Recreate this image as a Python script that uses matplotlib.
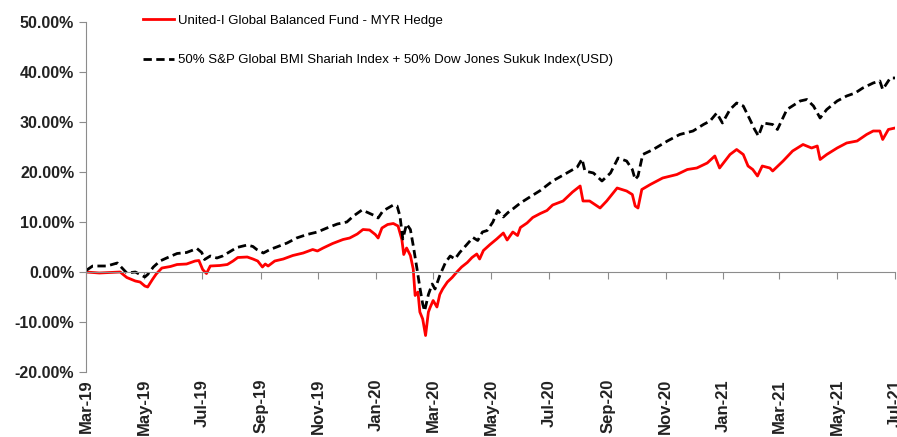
import matplotlib
matplotlib.use("Agg")
import matplotlib.pyplot as plt
import matplotlib.dates as mdates
import pandas as pd

plt.rcParams['font.family'] = ['Liberation Sans', 'DejaVu Sans']

# fund performance (%)
fund_dates = [
    "2019-03-01", "2019-03-15", "2019-03-26", "2019-04-06", "2019-04-13", "2019-04-22",
    "2019-04-27", "2019-05-02", "2019-05-05", "2019-05-10", "2019-05-14", "2019-05-20",
    "2019-05-29", "2019-06-05", "2019-06-15", "2019-06-24", "2019-06-28", "2019-07-02",
    "2019-07-06", "2019-07-10", "2019-07-20", "2019-07-28", "2019-08-03", "2019-08-08",
    "2019-08-18", "2019-08-24", "2019-08-29", "2019-09-03", "2019-09-06", "2019-09-09",
    "2019-09-16", "2019-09-25", "2019-10-05", "2019-10-16", "2019-10-26", "2019-10-31",
    "2019-11-06", "2019-11-16", "2019-11-27", "2019-12-04", "2019-12-12", "2019-12-18",
    "2019-12-25", "2019-12-31", "2020-01-03", "2020-01-07", "2020-01-13", "2020-01-19",
    "2020-01-24", "2020-01-28", "2020-01-30", "2020-02-02", "2020-02-06", "2020-02-09",
    "2020-02-11", "2020-02-14", "2020-02-16", "2020-02-19", "2020-02-22", "2020-02-25",
    "2020-02-27", "2020-03-01", "2020-03-05", "2020-03-08", "2020-03-11", "2020-03-16",
    "2020-03-21", "2020-03-26", "2020-03-31", "2020-04-06", "2020-04-11", "2020-04-16",
    "2020-04-19", "2020-04-23", "2020-04-30", "2020-05-07", "2020-05-14", "2020-05-18",
    "2020-05-24", "2020-05-29", "2020-06-01", "2020-06-08", "2020-06-14", "2020-06-22",
    "2020-06-29", "2020-07-05", "2020-07-16", "2020-07-26", "2020-08-03", "2020-08-06",
    "2020-08-13", "2020-08-24", "2020-08-31", "2020-09-11", "2020-09-21", "2020-09-27",
    "2020-09-30", "2020-10-03", "2020-10-07", "2020-10-16", "2020-10-29", "2020-11-13",
    "2020-11-24", "2020-12-04", "2020-12-15", "2020-12-23", "2020-12-28", "2021-01-08",
    "2021-01-15", "2021-01-22", "2021-01-27", "2021-02-01", "2021-02-06", "2021-02-11",
    "2021-02-19", "2021-02-22", "2021-03-05", "2021-03-15", "2021-03-26", "2021-04-04",
    "2021-04-10", "2021-04-13", "2021-04-20", "2021-05-01", "2021-05-11", "2021-05-22",
    "2021-06-01", "2021-06-08", "2021-06-15", "2021-06-18", "2021-06-24", "2021-07-01"]
fund_values = [
    0.0, -0.2, -0.1, 0.0, -1.1, -1.8,
    -2.0, -2.8, -3.0, -1.5, -0.4, 0.8,
    1.1, 1.5, 1.6, 2.2, 2.3, 0.5,
    -0.3, 1.2, 1.3, 1.5, 2.2, 2.9,
    3.0, 2.6, 2.2, 1.0, 1.6, 1.2,
    2.2, 2.6, 3.3, 3.8, 4.5, 4.2,
    4.8, 5.7, 6.5, 6.8, 7.6, 8.5,
    8.4, 7.5, 6.8, 8.8, 9.5, 9.7,
    9.2, 6.5, 3.5, 4.8, 3.3, 0.6,
    -4.7, -4.0, -8.0, -9.4, -12.7, -8.0,
    -7.0, -5.7, -7.0, -4.5, -3.4, -2.0,
    -1.1, 0.0, 1.0, 1.9, 2.9, 3.6,
    2.6, 4.3, 5.5, 6.6, 7.8, 6.4,
    8.0, 7.3, 8.9, 9.8, 10.9, 11.7,
    12.3, 13.4, 14.2, 16.0, 17.2, 14.2,
    14.2, 12.8, 14.2, 16.8, 16.2, 15.5,
    13.2, 12.8, 16.5, 17.5, 18.8, 19.5,
    20.5, 20.8, 21.8, 23.2, 20.8, 23.5,
    24.5, 23.5, 21.2, 20.5, 19.2, 21.2,
    20.8, 20.2, 22.2, 24.2, 25.5, 24.8,
    25.2, 22.5, 23.5, 24.8, 25.8, 26.2,
    27.5, 28.2, 28.2, 26.5, 28.5, 28.8]

# benchmark performance (%)
bench_dates = [
    "2019-03-01", "2019-03-08", "2019-03-23", "2019-04-03", "2019-04-08", "2019-04-13",
    "2019-04-22", "2019-04-27", "2019-05-02", "2019-05-05", "2019-05-11", "2019-05-18",
    "2019-05-25", "2019-06-05", "2019-06-15", "2019-06-26", "2019-07-01", "2019-07-04",
    "2019-07-10", "2019-07-17", "2019-07-23", "2019-07-31", "2019-08-07", "2019-08-18",
    "2019-08-24", "2019-08-28", "2019-09-04", "2019-09-11", "2019-09-18", "2019-09-29",
    "2019-10-09", "2019-10-20", "2019-10-31", "2019-11-10", "2019-11-21", "2019-12-01",
    "2019-12-08", "2019-12-17", "2019-12-23", "2019-12-31", "2020-01-03", "2020-01-08",
    "2020-01-19", "2020-01-23", "2020-01-26", "2020-01-29", "2020-02-02", "2020-02-06",
    "2020-02-09", "2020-02-13", "2020-02-16", "2020-02-19", "2020-02-21", "2020-02-25",
    "2020-02-29", "2020-03-03", "2020-03-08", "2020-03-14", "2020-03-19", "2020-03-24",
    "2020-03-29", "2020-04-06", "2020-04-12", "2020-04-17", "2020-04-22", "2020-04-27",
    "2020-05-03", "2020-05-08", "2020-05-14", "2020-05-19", "2020-05-24", "2020-06-01",
    "2020-06-11", "2020-06-22", "2020-07-05", "2020-07-20", "2020-07-31", "2020-08-05",
    "2020-08-08", "2020-08-17", "2020-08-26", "2020-09-04", "2020-09-12", "2020-09-21",
    "2020-09-27", "2020-09-30", "2020-10-03", "2020-10-08", "2020-10-19", "2020-11-03",
    "2020-11-16", "2020-11-30", "2020-12-11", "2020-12-18", "2020-12-25", "2020-12-31",
    "2021-01-08", "2021-01-15", "2021-01-22", "2021-01-29", "2021-02-03", "2021-02-07",
    "2021-02-12", "2021-02-22", "2021-02-27", "2021-03-09", "2021-03-23", "2021-03-30",
    "2021-04-06", "2021-04-13", "2021-04-20", "2021-05-01", "2021-05-11", "2021-05-20",
    "2021-05-28", "2021-06-08", "2021-06-15", "2021-06-18", "2021-06-26", "2021-07-01"]
bench_values = [
    0.3, 1.2, 1.2, 1.8, 0.8, -0.2,
    0.0, -0.5, -1.0, -0.5, 1.0, 2.2,
    2.8, 3.7, 3.9, 4.7, 3.9, 2.5,
    3.2, 2.8, 3.2, 4.1, 4.9, 5.4,
    5.1, 4.5, 3.8, 4.5, 5.0, 5.8,
    6.8, 7.5, 8.0, 8.8, 9.6, 10.0,
    11.2, 12.4, 11.9, 11.2, 10.8, 12.2,
    13.4, 13.2, 11.2, 6.6, 9.6, 8.5,
    5.3, 0.6, -3.1, -6.4, -7.8, -4.5,
    -2.4, -3.4, -0.7, 1.9, 3.2, 2.6,
    3.9, 5.6, 6.9, 6.3, 8.0, 8.3,
    10.0, 12.3, 11.0, 11.9, 12.6, 13.8,
    15.0, 16.3, 18.2, 19.8, 21.0, 22.6,
    20.2, 19.8, 18.2, 19.8, 22.8, 22.2,
    20.5, 18.5, 19.2, 23.5, 24.5, 26.2,
    27.5, 28.2, 29.5, 30.2, 31.8, 29.8,
    32.5, 33.8, 33.2, 30.5, 28.5, 27.2,
    29.8, 29.5, 28.5, 32.5, 34.2, 34.5,
    33.2, 30.8, 32.5, 34.2, 35.2, 35.8,
    36.8, 37.8, 38.2, 36.5, 38.8, 38.8]

fund_label = "United-I Global Balanced Fund - MYR Hedge"
bench_label = "50% S&P Global BMI Shariah Index + 50% Dow Jones Sukuk Index(USD)"

fig = plt.figure(figsize=(8.97, 4.37), dpi=100)
ax = fig.add_axes([0.0959, 0.1487, 0.9019, 0.801])

ax.plot(pd.to_datetime(fund_dates), fund_values, color="#FF0000", lw=2.0, label=fund_label)
ax.plot(pd.to_datetime(bench_dates), bench_values, color="black", lw=2.0,
        ls=(0, (3, 1.6)), label=bench_label)

ax.set_ylim(-20, 50)
ax.set_yticks(range(-20, 51, 10))
ax.set_yticklabels([f"{v:.2f}%" for v in range(-20, 51, 10)])
ax.set_xlim(pd.Timestamp("2019-03-01"), pd.Timestamp("2021-07-01"))

grey = "#8C8C8C"
for s in ["top", "right"]:
    ax.spines[s].set_visible(False)
ax.spines["left"].set_color(grey)
ax.spines["bottom"].set_color(grey)
ax.spines["bottom"].set_position(("data", 0))

locator = mdates.MonthLocator(bymonth=[1, 3, 5, 7, 9, 11])
ax.xaxis.set_major_locator(locator)
ax.tick_params(axis="x", labelbottom=False, direction="out", length=5, color=grey)
ax.tick_params(axis="y", direction="out", length=5, color=grey,
               labelsize=11.5, labelcolor="#222222")
for t in ax.get_yticklabels():
    t.set_fontweight("bold")

# month labels sit at the bottom, while the axis line crosses at 0%
sec = ax.secondary_xaxis(0)
sec.xaxis.set_major_locator(locator)
sec.xaxis.set_major_formatter(mdates.DateFormatter("%b-%y"))
sec.spines["bottom"].set_visible(False)
sec.tick_params(axis="x", length=0, pad=5, labelsize=12, labelcolor="#222222",
                labelrotation=90)
for t in sec.get_xticklabels():
    t.set_fontweight("bold")

ax.legend(loc="upper left", bbox_to_anchor=(138 / 897, 1 - 9 / 437),
          bbox_transform=fig.transFigure, frameon=False, fontsize=9.5,
          labelspacing=2.1, handlelength=2.35, handletextpad=0.3, borderaxespad=0)

fig.savefig("out.png", dpi=100)
